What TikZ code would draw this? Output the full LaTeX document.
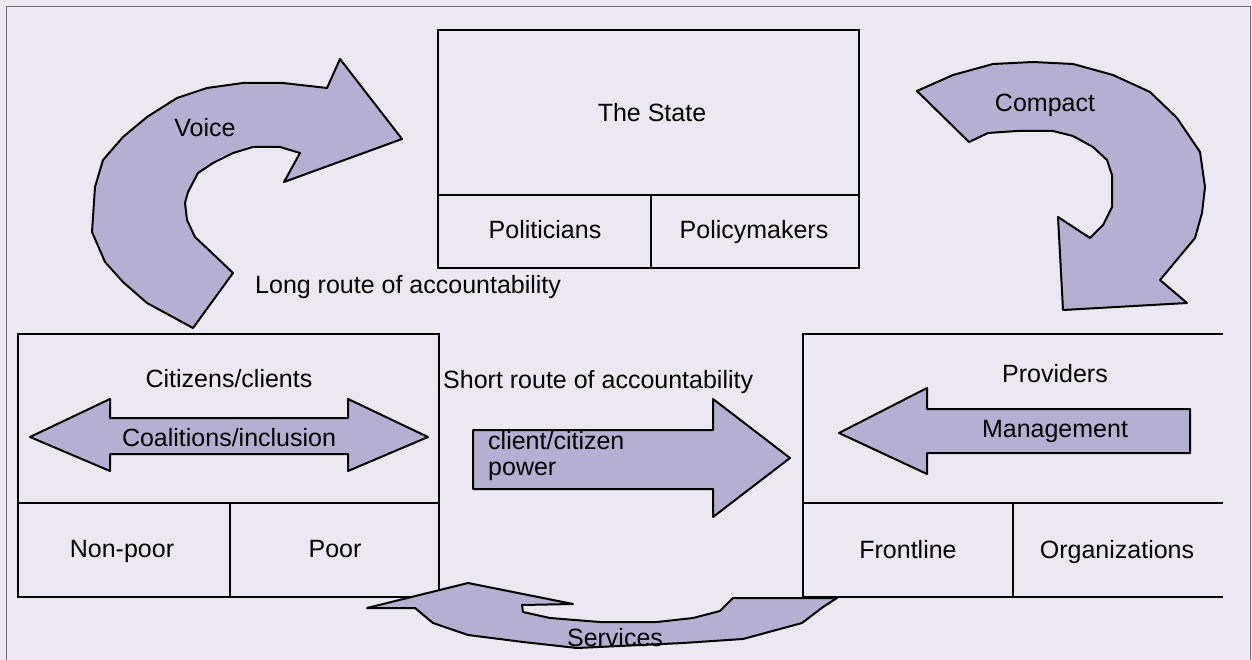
\documentclass[tikz,border=0pt]{standalone}
\usepackage{fontspec}
\setmainfont{Liberation Sans}
\definecolor{paper}{RGB}{236,232,242}
\definecolor{arrowfill}{RGB}{181,175,210}
\definecolor{rim}{RGB}{110,110,110}
\tikzset{
  boxline/.style={draw=black,line width=2pt},
  bigarrow/.style={draw=black,line width=2pt,fill=arrowfill,line join=round},
  txt/.style={font=\fontsize{25}{26}\selectfont,inner sep=0pt,text=black},
  lbl/.style={txt,text height=18pt,text depth=0pt},
}
\begin{document}
\begin{tikzpicture}[x=1pt,y=-1pt]
\useasboundingbox (0,0) rectangle (1252,660);
\fill[paper] (0,0) rectangle (1252,660);
\draw[rim,line width=1pt] (6,7) -- (1250,7) -- (1250,662) (6,662) -- (6,7);

% The State
\draw[boxline] (438,30) rectangle (859,268);
\draw[boxline] (438,195) -- (859,195) (651,195) -- (651,268);

% Citizens / clients
\draw[boxline] (18,334) rectangle (439,597);
\draw[boxline] (18,503) -- (439,503) (230,503) -- (230,597);

% Providers (open on the right)
\draw[boxline] (1223,334) -- (803,334) -- (803,597) -- (1223,597);
\draw[boxline] (803,503) -- (1223,503) (1013,503) -- (1013,597);

% Voice
\draw[bigarrow] (402,139) -- (340,59) -- (327,88) -- (283,83) -- (243,83) -- (207,88)
  -- (177,98) -- (147,117) -- (123,137) -- (103,160) -- (95,187) -- (92,232)
  -- (105,262) -- (123,282) -- (147,303) -- (193,328) -- (233,273) -- (212,253)
  -- (195,237) -- (187,220) -- (185,203) -- (188,192) -- (198,173) -- (213,163)
  -- (233,153) -- (253,147) -- (280,147) -- (300,153) -- (284,182) -- cycle;

% Compact
\draw[bigarrow] (917,91) -- (953,75) -- (993,64) -- (1033,62) -- (1073,64)
  -- (1113,75) -- (1150,92) -- (1177,118) -- (1200,152) -- (1205,187)
  -- (1202,213) -- (1195,238) -- (1160,280) -- (1187,303) -- (1063,310)
  -- (1058,217) -- (1090,238) -- (1103,225) -- (1112,207) -- (1112,175)
  -- (1107,160) -- (1093,147) -- (1073,136) -- (1053,131) -- (1017,131)
  -- (988,133) -- (969,142) -- cycle;

% Services
\draw[bigarrow] (367,608) -- (468,583) -- (573,604) -- (522,605) -- (523,612)
  -- (550,618) -- (600,622) -- (657,622) -- (693,618) -- (720,611) -- (733,598)
  -- (837,598) -- (823,607) -- (802,623) -- (743,639) -- (683,643) -- (577,648)
  -- (523,642) -- (468,635) -- (433,623) -- (415,608) -- cycle;

% Coalitions / inclusion
\draw[bigarrow] (30,437) -- (110,399) -- (110,418) -- (348,418) -- (348,399)
  -- (428,437) -- (348,471) -- (348,454) -- (110,454) -- (110,471) -- cycle;

% Management
\draw[bigarrow] (839,433) -- (927,388) -- (927,409) -- (1190,409) -- (1190,453)
  -- (927,453) -- (927,474) -- cycle;

% Client / citizen power
\draw[bigarrow] (473,430) -- (713,430) -- (713,399) -- (790,458) -- (713,517)
  -- (713,489) -- (473,489) -- cycle;

% Labels
\node[lbl] (state) at (652,113) {The State};
\node[lbl] (politicians) at (545,230) {Politicians};
\node[lbl] (policymakers) at (754,230) {Policymakers};
\node[lbl,anchor=west] (longroute) at (255,285) {Long route of accountability};
\node[lbl,anchor=west] (shortroute) at (443,379) {Short route of accountability};
\node[lbl] (citizens) at (229,378) {Citizens/clients};
\node[lbl] (coalitions) at (229,437) {Coalitions/inclusion};
\node[lbl] (nonpoor) at (122,548) {Non-poor};
\node[lbl] (poor) at (335,548) {Poor};
\node[lbl] (providers) at (1055,373) {Providers};
\node[lbl] (management) at (1055,428) {Management};
\node[lbl] (frontline) at (908,549) {Frontline};
\node[lbl] (organizations) at (1117,549) {Organizations};
\node[txt,align=left,anchor=west] (power) at (488,456) {client/citizen\\power};
\node[lbl] (voice) at (205,128) {Voice};
\node[lbl] (compact) at (1045,103) {Compact};
\node[lbl] (services) at (615,637) {Services};
\end{tikzpicture}
\end{document}
